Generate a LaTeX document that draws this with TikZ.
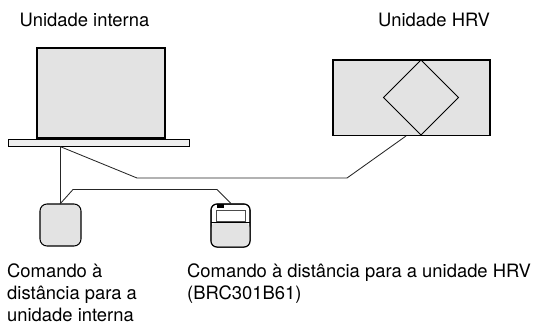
\documentclass[tikz,border=0pt]{standalone}
\usepackage{fontspec}
\setmainfont{TeX Gyre Heros}
\definecolor{fillg}{gray}{0.89}
\tikzset{
  x=1bp,y=-1bp,
  unitbox/.style={draw=black,fill=fillg,line width=1.05bp,inner sep=0pt,outer sep=0pt,anchor=north west},
  wire/.style={draw=black!85,line width=0.85bp,line join=round},
  lab/.style={font=\fontsize{18.4bp}{22bp}\selectfont,inner sep=0pt,anchor=base west,align=left}
}
\newcommand{\boxat}[6]{\node[unitbox,#6,minimum width=#4bp,minimum height=#5bp] (#1) at (#2,#3) {};}
\begin{document}
\begin{tikzpicture}
\useasboundingbox (0,0) rectangle (536,325);
\boxat{indoor}{37}{48}{128}{90}{}
\boxat{panel}{8}{139}{181}{7}{line width=0.7bp,fill=fillg!60}
\boxat{hrv}{333}{60}{157}{75.5}{}
\node[draw=black,line width=1bp,fill=fillg,shape=rectangle,inner sep=0pt,minimum size=53bp,rotate=45,outer sep=0pt] (dia) at (421,97.5) {};
\boxat{rem1}{40}{204}{41}{42}{rounded corners=7bp}
\boxat{rem2}{211}{204}{39}{43}{rounded corners=6bp,fill=white}
\fill[fillg,rounded corners=6bp] (211.4,222) -- (249.6,222) -- (249.6,246.6) -- (211.4,246.6) -- cycle;
\draw[line width=1bp,rounded corners=6bp] (211,204) rectangle (250,247);
\draw[line width=0.8bp] (211,222) -- (250,222);
\node[draw=black!70,fill=white,line width=1.4bp,inner sep=0pt,minimum width=29bp,minimum height=11bp,anchor=north west] (scr) at (215.5,209.5) {};
\fill[black] (217,203.5) rectangle (224,207.5);
\coordinate (j) at (60,146.5);
\coordinate (k1) at (137,178);
\coordinate (k2) at (347,178);
\coordinate (h) at (406,136);
\coordinate (r1) at (60,204);
\coordinate (m1) at (73,189.5);
\coordinate (m2) at (217,189.5);
\coordinate (r2) at (231,203.5);
\draw[wire] (j) -- (r1);
\draw[wire] (j) -- (k1) -- (k2) -- (h);
\draw[wire] (r1) -- (m1) -- (m2) -- (r2);
\node[lab] (t1) at (19.5,26) {Unidade interna};
\node[lab] (t2) at (378,26) {Unidade HRV};
\node[lab] (t3) at (7,277.7) {Comando à};
\node[lab] (t4) at (7,299.5) {distância para a};
\node[lab] (t5) at (7,321.5) {unidade interna};
\node[lab] (t6) at (187,277.7) {Comando à distância para a unidade HRV};
\node[lab] (t7) at (187,299.5) {(BRC301B61)};
\end{tikzpicture}
\end{document}
